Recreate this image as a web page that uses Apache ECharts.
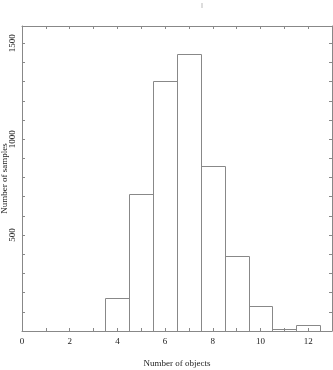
<!DOCTYPE html>
<html><head><meta charset="utf-8">
<script src="https://cdn.jsdelivr.net/npm/echarts@6/dist/echarts.min.js"></script>
<style>html,body{margin:0;padding:0;background:#fff}#c{width:333px;height:370px}</style>
</head><body><div id="c"></div>
<script>
var binCenters = [4, 5, 6, 7, 8, 9, 10, 11, 12];
var counts = [170, 712, 1302, 1443, 861, 391, 129, 9, 30];
var xLabels = [0, 2, 4, 6, 8, 10, 12];
var yLabels = [500, 1000, 1500];

var data = binCenters.map(function (c, i) { return [c, counts[i]]; });
var font = 'Liberation Serif';
var chart = echarts.init(document.getElementById('c'));
var axisCommon = {
  axisLine: { show: true, onZero: false, lineStyle: { color: '#888' } },
  axisTick: { show: true, inside: true, length: 3, lineStyle: { color: '#888' } },
  splitLine: { show: false }
};
chart.setOption({
  animation: false,
  grid: { left: 22, right: 1, top: 26, bottom: 39, containLabel: false, outerBoundsMode: 'none' },
  graphic: [{ type: 'line', shape: { x1: 202, y1: 3, x2: 202, y2: 8 }, style: { stroke: '#bbb', lineWidth: 1 } }],
  xAxis: [Object.assign({
    type: 'value', min: 0, max: 13, interval: 1, show: true,
    name: 'Number of objects', nameLocation: 'middle', nameGap: 28, nameMoveOverlap: false,
    nameTextStyle: { fontFamily: font, fontSize: 9, color: '#222' },
    axisLabel: { fontFamily: font, fontSize: 9, color: '#222', margin: 6,
      formatter: function (v) { return xLabels.indexOf(v) >= 0 ? String(v) : ''; } }
  }, axisCommon), Object.assign({
    type: 'value', min: 0, max: 13, interval: 1, position: 'top', show: true,
    axisLabel: { show: false }
  }, axisCommon)],
  yAxis: [Object.assign({
    type: 'value', min: 0, max: 1590, interval: 100, show: true,
    name: 'Number of samples', nameLocation: 'middle', nameGap: 13, nameRotate: 90, nameMoveOverlap: false,
    nameTextStyle: { fontFamily: font, fontSize: 9, color: '#222' },
    axisLabel: { fontFamily: font, fontSize: 9, color: '#222', rotate: 90, margin: 5,
      formatter: function (v) { return yLabels.indexOf(v) >= 0 ? String(v) : ''; } }
  }, axisCommon), Object.assign({
    type: 'value', min: 0, max: 1590, interval: 100, position: 'right', show: true,
    axisLabel: { show: false }
  }, axisCommon)],
  series: [{
    type: 'custom', xAxisIndex: 0, yAxisIndex: 0, data: data,
    renderItem: function (params, api) {
      var c = api.value(0), v = api.value(1);
      var p0 = api.coord([c - 0.5, v]);
      var p1 = api.coord([c + 0.5, 0]);
      return { type: 'rect',
        shape: { x: Math.round(p0[0]) + 0.5, y: Math.round(p0[1]) + 0.5,
                 width: Math.round(p1[0]) - Math.round(p0[0]), height: Math.round(p1[1]) - Math.round(p0[1]) },
        style: { fill: 'rgba(255,255,255,0)', stroke: '#888', lineWidth: 1 } };
    }
  }, {
    type: 'line', xAxisIndex: 1, yAxisIndex: 1, data: [], silent: true
  }]
});
</script></body></html>
